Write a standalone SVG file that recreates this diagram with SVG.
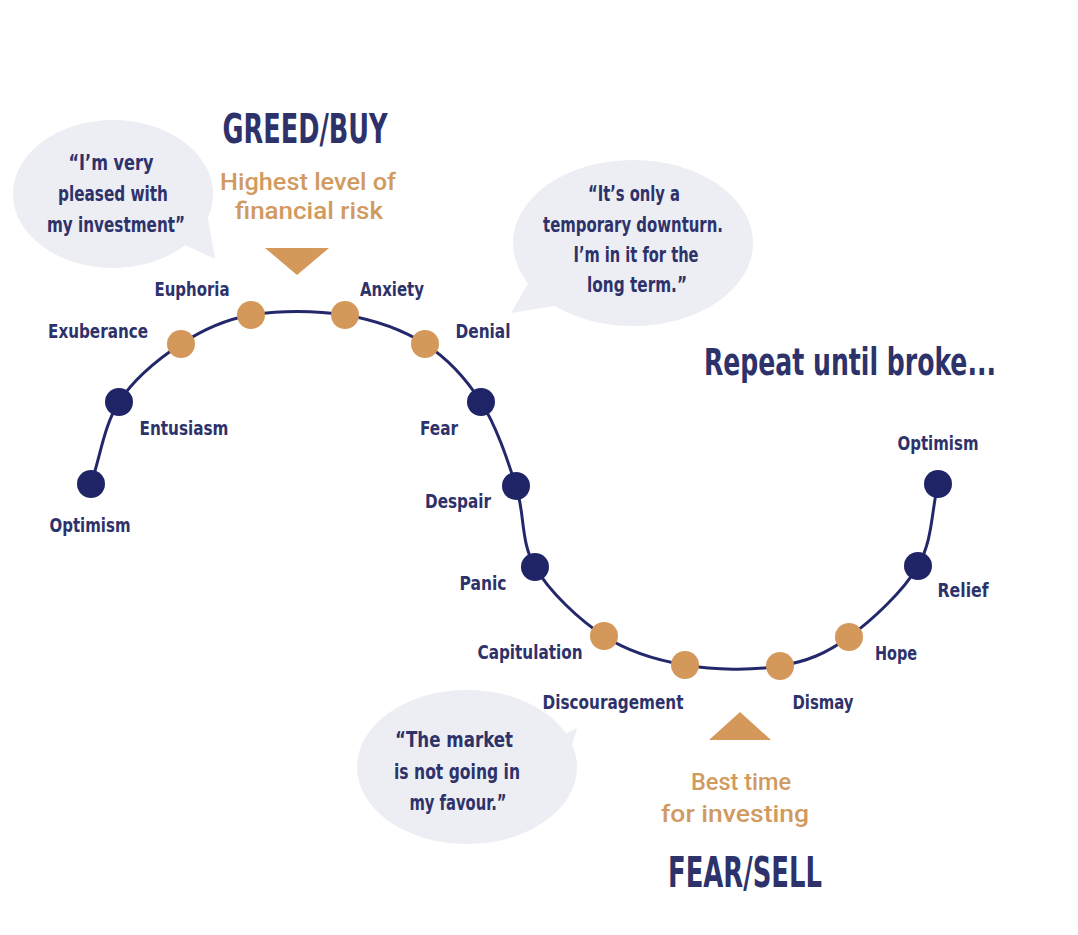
<svg xmlns="http://www.w3.org/2000/svg" width="1078" height="935" viewBox="0 0 1078 935">
<style>
.lbl{font-family:"DejaVu Sans Condensed","DejaVu Sans",sans-serif;font-stretch:condensed;font-weight:bold;fill:#2e326a;font-size:20px;text-anchor:middle}
.bub{font-family:"DejaVu Sans Condensed","DejaVu Sans",sans-serif;font-stretch:condensed;font-weight:bold;fill:#2e326a;font-size:21px;text-anchor:middle}
.big{font-family:"DejaVu Sans Condensed","DejaVu Sans",sans-serif;font-stretch:condensed;font-weight:bold;fill:#2e326a;text-anchor:middle}
.org{font-family:Roboto,"Liberation Sans",sans-serif;font-weight:500;fill:#d19a5f;font-size:24px;text-anchor:middle}
.navy{fill:#1f2467}
.gold{fill:#d4985a}
.bfill{fill:#eceef4}
.tri{fill:#d4985a}
</style>
<rect width="1078" height="935" fill="#ffffff"/>
<g id="bubble-left">
<ellipse class="bfill" cx="113" cy="194" rx="100" ry="74"/>
<polygon class="bfill" points="185,245 207,212 215,259"/>
<text class="bub" x="111" y="170" textLength="85" lengthAdjust="spacingAndGlyphs">“I’m very</text>
<text class="bub" x="113" y="201" textLength="110" lengthAdjust="spacingAndGlyphs">pleased with</text>
<text class="bub" x="116" y="232" textLength="138" lengthAdjust="spacingAndGlyphs">my investment”</text>
</g>
<g id="bubble-right">
<ellipse class="bfill" cx="633" cy="243" rx="120" ry="83"/>
<polygon class="bfill" points="530,280 560,305 511,313"/>
<text class="bub" x="634" y="201" textLength="92" lengthAdjust="spacingAndGlyphs">“It’s only a</text>
<text class="bub" x="633" y="232" textLength="180" lengthAdjust="spacingAndGlyphs">temporary downturn.</text>
<text class="bub" x="636" y="262" textLength="125" lengthAdjust="spacingAndGlyphs">I’m in it for the</text>
<text class="bub" x="637" y="292" textLength="100" lengthAdjust="spacingAndGlyphs">long term.”</text>
</g>
<g id="bubble-bottom">
<ellipse class="bfill" cx="467" cy="767" rx="110" ry="77"/>
<polygon class="bfill" points="550,742 565,770 577,728"/>
<text class="bub" x="454" y="747" textLength="118" lengthAdjust="spacingAndGlyphs">“The market</text>
<text class="bub" x="457" y="779" textLength="126" lengthAdjust="spacingAndGlyphs">is  not going in</text>
<text class="bub" x="458" y="810" textLength="97" lengthAdjust="spacingAndGlyphs">my favour.”</text>
</g>
<g id="greed">
<text class="big" x="305" y="143" font-size="41" textLength="165" lengthAdjust="spacingAndGlyphs">GREED/BUY</text>
<text class="org" x="308" y="190" textLength="176" lengthAdjust="spacingAndGlyphs">Highest level of</text>
<text class="org" x="309" y="219" textLength="148" lengthAdjust="spacingAndGlyphs">financial risk</text>
<polygon class="tri" points="265,248 329,248 297,275"/>
</g>
<g id="fear">
<polygon class="tri" points="740,712 709,740 771,740"/>
<text class="org" x="741" y="790" textLength="100" lengthAdjust="spacingAndGlyphs">Best time</text>
<text class="org" x="735" y="822" textLength="148" lengthAdjust="spacingAndGlyphs">for investing</text>
<text class="big" x="745" y="887" font-size="43" textLength="154" lengthAdjust="spacingAndGlyphs">FEAR/SELL</text>
</g>
<g id="repeat">
<text class="big" font-size="37" transform="translate(850,375) scale(0.755,1)">Repeat until broke...</text>
</g>
<g id="connectors">
<path d="M91,484 C100.3,456.7 104,425.3 119,402 C134,378.7 159,358.5 181,344 C203,329.5 223.7,319.8 251,315 C278.3,310.2 316,310.2 345,315 C374,319.8 402.3,329.5 425,344 C447.7,358.5 465.8,378.3 481,402 C496.2,425.7 507,458.5 516,486 C525,513.5 520.3,542 535,567 C549.7,592 579,619.7 604,636 C629,652.3 655.7,660 685,665 C714.3,670 752.7,670.7 780,666 C807.3,661.3 826,653.7 849,637 C872,620.3 903.2,591.5 918,566 C932.8,540.5 931.3,511.3 938,484" fill="none" stroke="#23286a" stroke-width="3"/>
</g>
<g id="n-optimism1"><circle class="navy" cx="91" cy="484" r="14"/><text class="lbl" x="90" y="532" textLength="81" lengthAdjust="spacingAndGlyphs">Optimism</text></g>
<g id="n-entusiasm"><circle class="navy" cx="119" cy="402" r="14"/><text class="lbl" x="184" y="435" textLength="89" lengthAdjust="spacingAndGlyphs">Entusiasm</text></g>
<g id="n-exuberance"><circle class="gold" cx="181" cy="344" r="14"/><text class="lbl" x="98" y="338" textLength="100" lengthAdjust="spacingAndGlyphs">Exuberance</text></g>
<g id="n-euphoria"><circle class="gold" cx="251" cy="315" r="14"/><text class="lbl" x="192" y="296" textLength="75" lengthAdjust="spacingAndGlyphs">Euphoria</text></g>
<g id="n-anxiety"><circle class="gold" cx="345" cy="315" r="14"/><text class="lbl" x="392" y="296" textLength="64" lengthAdjust="spacingAndGlyphs">Anxiety</text></g>
<g id="n-denial"><circle class="gold" cx="425" cy="344" r="14"/><text class="lbl" x="483" y="338" textLength="55" lengthAdjust="spacingAndGlyphs">Denial</text></g>
<g id="n-fear"><circle class="navy" cx="481" cy="402" r="14"/><text class="lbl" x="439" y="435" textLength="38" lengthAdjust="spacingAndGlyphs">Fear</text></g>
<g id="n-despair"><circle class="navy" cx="516" cy="486" r="14"/><text class="lbl" x="458" y="508" textLength="66" lengthAdjust="spacingAndGlyphs">Despair</text></g>
<g id="n-panic"><circle class="navy" cx="535" cy="567" r="14"/><text class="lbl" x="483" y="590" textLength="47" lengthAdjust="spacingAndGlyphs">Panic</text></g>
<g id="n-capitulation"><circle class="gold" cx="604" cy="636" r="14"/><text class="lbl" x="530" y="659" textLength="105" lengthAdjust="spacingAndGlyphs">Capitulation</text></g>
<g id="n-discouragement"><circle class="gold" cx="685" cy="665" r="14"/><text class="lbl" x="613" y="709" textLength="141" lengthAdjust="spacingAndGlyphs">Discouragement</text></g>
<g id="n-dismay"><circle class="gold" cx="780" cy="666" r="14"/><text class="lbl" x="823" y="709" textLength="61" lengthAdjust="spacingAndGlyphs">Dismay</text></g>
<g id="n-hope"><circle class="gold" cx="849" cy="637" r="14"/><text class="lbl" x="896" y="660" textLength="42" lengthAdjust="spacingAndGlyphs">Hope</text></g>
<g id="n-relief"><circle class="navy" cx="918" cy="566" r="14"/><text class="lbl" x="963" y="597" textLength="51" lengthAdjust="spacingAndGlyphs">Relief</text></g>
<g id="n-optimism2"><circle class="navy" cx="938" cy="484" r="14"/><text class="lbl" x="938" y="450" textLength="81" lengthAdjust="spacingAndGlyphs">Optimism</text></g>
</svg>
